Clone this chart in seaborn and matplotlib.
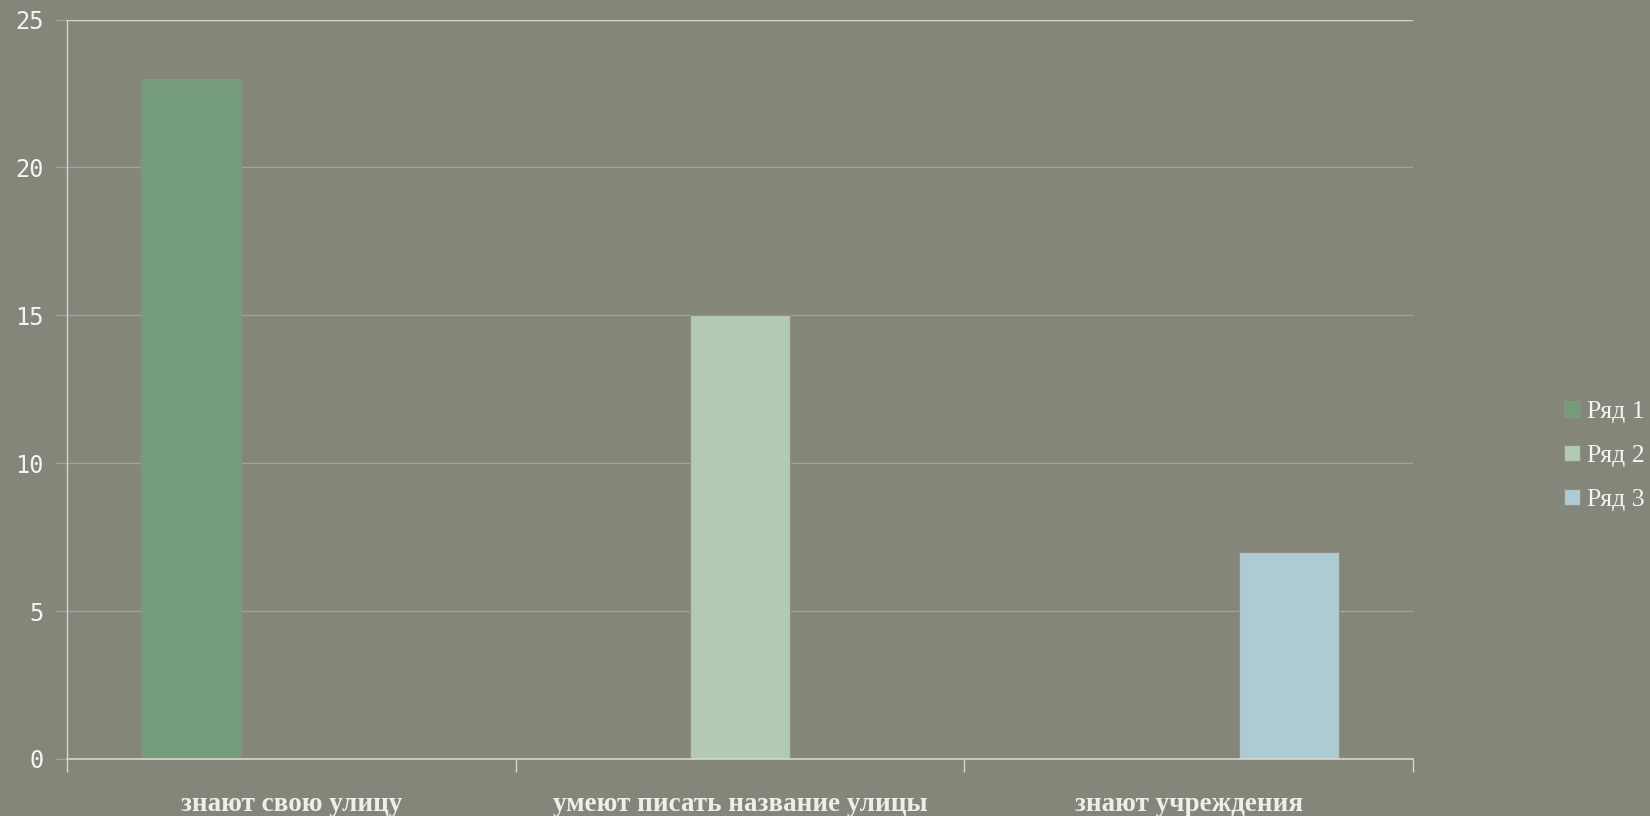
import matplotlib
matplotlib.use("Agg")
import pandas as pd
import seaborn as sns
import matplotlib.pyplot as plt

categories = ["знают свою улицу", "умеют писать название улицы", "знают учреждения"]
series = ["Ряд 1", "Ряд 2", "Ряд 3"]
values = [23, 15, 7]
colors = ["#6fa275", "#aecdb0", "#a8cdd8"]
yticks = [0, 5, 10, 15, 20, 25]

bg = "#84867a"
grid_col = "#a3a499"
axis_col = "#d6d6cc"

df = pd.DataFrame({"cat": categories, "series": series, "value": values})

sns.set_style("white")
plt.rcParams["font.family"] = ["Liberation Serif", "DejaVu Serif"]

fig = plt.figure(figsize=(16.5, 8.16), dpi=100, facecolor=bg)
ax = fig.add_axes([67 / 1650, 1 - 759 / 816, (1413 - 67) / 1650, (759 - 19.5) / 816])
ax.set_facecolor(bg)

sns.barplot(data=df, x="cat", y="value", hue="series", order=categories,
            hue_order=series, palette=colors, width=0.668, dodge=True,
            edgecolor="#8e9086", linewidth=0.8, ax=ax, legend=True, zorder=3)

ax.set_xlim(-0.5, 2.5)
ax.set_ylim(0, 25)
ax.set_yticks(yticks)
ax.set_yticklabels([str(v) for v in yticks], family="DejaVu Sans Mono",
                   fontsize=17, color="#f4f4f0")
ax.set_xticks([-0.5, 0.5, 1.5, 2.5], minor=False)
ax.set_xticklabels([])
ax.set_xticks([0, 1, 2], minor=True)
ax.set_xticklabels(categories, minor=True, fontsize=19.5, fontweight="bold",
                   color="#eeeeea")
ax.tick_params(axis="x", which="minor", bottom=False, length=0, pad=24)
ax.tick_params(axis="x", which="major", bottom=True, length=9, color=axis_col,
               width=1, direction="out")
ax.tick_params(axis="y", left=True, length=9, color=grid_col, width=1,
               direction="out", pad=8)

for v in yticks[1:]:
    ax.axhline(v, color=axis_col if v == 25 else grid_col, lw=1, zorder=1)

for s in ["top", "right"]:
    ax.spines[s].set_visible(False)
ax.spines["left"].set_color(axis_col)
ax.spines["bottom"].set_color(axis_col)
ax.spines["left"].set_linewidth(1)
ax.spines["bottom"].set_linewidth(1.2)
ax.spines["bottom"].set_zorder(4)

ax.set_xlabel("")
ax.set_ylabel("")

leg = ax.legend(loc="center left", bbox_to_anchor=((1541 - 67) / 1346, 0.41),
                frameon=False, fontsize=18.5, handlelength=0.6, handleheight=0.6,
                handletextpad=0.3, labelspacing=0.85)
for t in leg.get_texts():
    t.set_color("#f4f4f0")

fig.savefig("out.png", dpi=100, facecolor=bg)
